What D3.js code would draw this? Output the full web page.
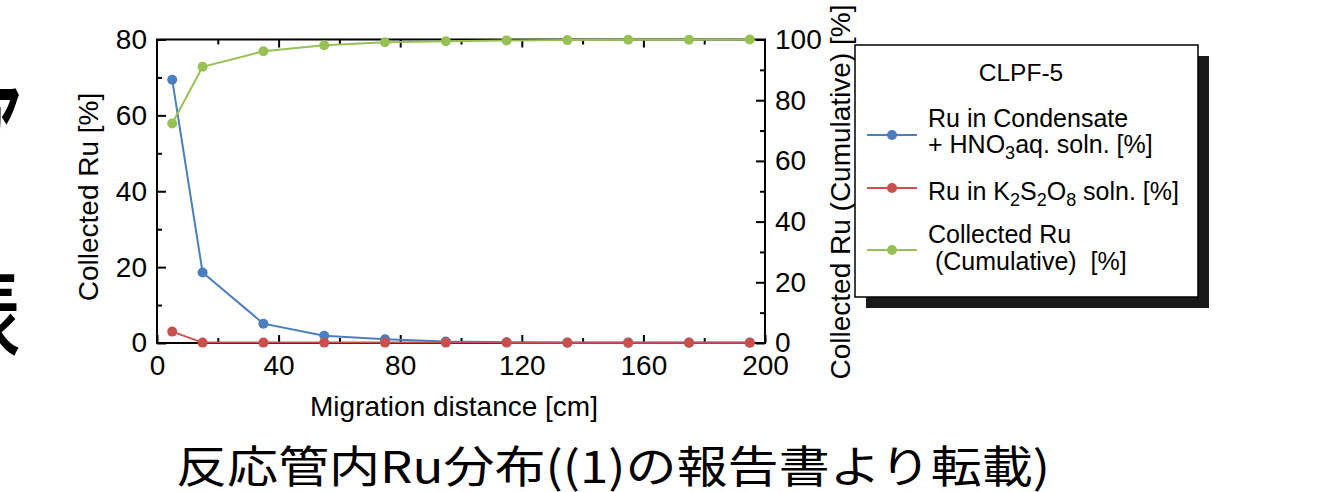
<!DOCTYPE html>
<html>
<head>
<meta charset="utf-8">
<script src="https://cdn.jsdelivr.net/npm/d3@7"></script>
<style>
  html, body { margin: 0; padding: 0; background: #fff; }
  svg { display: block; }
  text { font-family: "Liberation Sans", Arial, sans-serif; fill: #000; }
  .cjk { font-family: "Noto Sans CJK JP", sans-serif; }
</style>
</head>
<body>
<svg id="chart" width="1333" height="492"></svg>
<script>
// Migration distance along the reaction tube [cm]
const distance = [5, 15, 35, 55, 75, 95, 115, 135, 155, 175, 195];
// Ru in condensate + HNO3 aq. solution [%]
const condensate = [69.4, 18.6, 5.1, 1.9, 1.0, 0.4, 0.2, 0.1, 0.1, 0.1, 0.1];
// Ru in K2S2O8 solution [%]
const persulfate = [3.0, 0.1, 0.1, 0.1, 0.1, 0.1, 0.1, 0.05, 0.05, 0.05, 0.05];
// Collected Ru, cumulative [%] (right axis)
const cumulative = [72.3, 91.0, 96.1, 98.1, 99.1, 99.4, 99.7, 99.8, 99.9, 99.9, 100.0];

const xTicks = [0, 40, 80, 120, 160, 200];
const xMinor = [20, 60, 100, 140, 180];
const yLeftTicks = [0, 20, 40, 60, 80];
const yLeftMinor = [10, 30, 50, 70];
const yRightTicks = [0, 20, 40, 60, 80, 100];
const yRightMinor = [10, 30, 50, 70, 90];

const colors = { condensate: "#4a7ebf", persulfate: "#c9504d", cumulative: "#98c154" };

const svg = d3.select("#chart");
const plot = { left: 157, right: 765, top: 39.5, bottom: 343 };

const x = d3.scaleLinear().domain([0, 200]).range([plot.left, plot.right]);
const yL = d3.scaleLinear().domain([0, 80]).range([plot.bottom, plot.top]);
const yR = d3.scaleLinear().domain([0, 100]).range([plot.bottom, plot.top]);

// cropped glyphs at the left edge
svg.append("text").attr("class", "cjk")
  .attr("transform", "translate(-24,156) scale(0.5,1)")
  .style("font-size", "90px").style("font-weight", 700).text("ア");
svg.append("text").attr("class", "cjk")
  .attr("transform", "translate(-46,348) scale(0.7,1)")
  .style("font-size", "95px").style("font-weight", 500).text("表");

const axisFont = 28;

function styleAxis(g) {
  g.select(".domain").remove();
  g.selectAll(".tick line").attr("stroke", "#000").attr("stroke-width", 2);
  g.selectAll(".tick text").style("font-size", axisFont + "px")
    .style("font-family", "'Liberation Sans', Arial, sans-serif").attr("fill", "#000");
}

// bottom axis
svg.append("g").attr("transform", `translate(0,${plot.bottom})`)
  .call(d3.axisBottom(x).tickValues(xTicks).tickSize(-8).tickPadding(12).tickFormat(d3.format("d")))
  .call(styleAxis);
svg.append("g").attr("transform", `translate(0,${plot.bottom})`)
  .call(d3.axisBottom(x).tickValues(xMinor).tickSize(-5).tickFormat(""))
  .call(styleAxis);
// top axis (ticks only)
svg.append("g").attr("transform", `translate(0,${plot.top})`)
  .call(d3.axisTop(x).tickValues(xTicks.slice(1, -1)).tickSize(-8).tickFormat(""))
  .call(styleAxis);
svg.append("g").attr("transform", `translate(0,${plot.top})`)
  .call(d3.axisTop(x).tickValues(xMinor).tickSize(-5).tickFormat(""))
  .call(styleAxis);
// left axis
svg.append("g").attr("transform", `translate(${plot.left},0)`)
  .call(d3.axisLeft(yL).tickValues(yLeftTicks).tickSize(-9).tickPadding(10).tickFormat(d3.format("d")))
  .call(styleAxis);
svg.append("g").attr("transform", `translate(${plot.left},0)`)
  .call(d3.axisLeft(yL).tickValues(yLeftMinor).tickSize(-5).tickFormat(""))
  .call(styleAxis);
// right axis
svg.append("g").attr("transform", `translate(${plot.right},0)`)
  .call(d3.axisRight(yR).tickValues(yRightTicks).tickSize(-9).tickPadding(10).tickFormat(d3.format("d")))
  .call(styleAxis);
svg.append("g").attr("transform", `translate(${plot.right},0)`)
  .call(d3.axisRight(yR).tickValues(yRightMinor).tickSize(-5).tickFormat(""))
  .call(styleAxis);

// plot frame
svg.append("rect")
  .attr("x", plot.left).attr("y", plot.top)
  .attr("width", plot.right - plot.left).attr("height", plot.bottom - plot.top)
  .attr("fill", "none").attr("stroke", "#000").attr("stroke-width", 2);

// series, drawn blue, green, then red on top
const series = {
  condensate: { values: condensate, y: yL },
  cumulative: { values: cumulative, y: yR },
  persulfate: { values: persulfate, y: yL }
};
["condensate", "cumulative", "persulfate"].forEach(k => {
  const s = series[k];
  const pts = distance.map((d, i) => [x(d), s.y(s.values[i])]);
  svg.append("path")
    .attr("d", d3.line()(pts))
    .attr("fill", "none").attr("stroke", colors[k]).attr("stroke-width", 2);
  svg.append("g").selectAll("circle").data(pts).join("circle")
    .attr("cx", d => d[0]).attr("cy", d => d[1]).attr("r", 5)
    .attr("fill", colors[k]);
});

// axis titles
svg.append("text")
  .attr("transform", `translate(98,197) rotate(-90)`)
  .attr("text-anchor", "middle").style("font-size", axisFont + "px")
  .text("Collected Ru [%]");
svg.append("text")
  .attr("transform", `translate(850,192) rotate(-90)`)
  .attr("text-anchor", "middle").style("font-size", axisFont + "px")
  .text("Collected Ru (Cumulative) [%]");
svg.append("text")
  .attr("x", 454).attr("y", 416)
  .attr("text-anchor", "middle").style("font-size", axisFont + "px")
  .text("Migration distance [cm]");

// legend
const lg = svg.append("g");
lg.append("rect").attr("x", 866).attr("y", 56).attr("width", 343).attr("height", 252)
  .attr("fill", "#1a1a1a");
lg.append("rect").attr("x", 855).attr("y", 45).attr("width", 343).attr("height", 252)
  .attr("fill", "#fff").attr("stroke", "#000").attr("stroke-width", 1.5);
lg.append("text").attr("x", 1021).attr("y", 81).attr("text-anchor", "middle")
  .style("font-size", "24.5px").text("CLPF-5");

const legendFont = "25px";
const subFont = "18px";
const legendRows = [
  { key: "condensate", y: 135 },
  { key: "persulfate", y: 188 },
  { key: "cumulative", y: 250 }
];
legendRows.forEach(r => {
  lg.append("line").attr("x1", 867).attr("x2", 917).attr("y1", r.y).attr("y2", r.y)
    .attr("stroke", colors[r.key]).attr("stroke-width", 2);
  lg.append("circle").attr("cx", 892).attr("cy", r.y).attr("r", 5).attr("fill", colors[r.key]);
});

// entry 1
lg.append("text").attr("x", 928).attr("y", 127).style("font-size", legendFont).text("Ru in Condensate");
const t2 = lg.append("text").attr("x", 928).attr("y", 153).style("font-size", legendFont);
t2.append("tspan").text("+ HNO");
t2.append("tspan").attr("dy", 6).style("font-size", subFont).text("3");
t2.append("tspan").attr("dy", -6).text("aq. soln. [%]");
// entry 2
const t3 = lg.append("text").attr("x", 928).attr("y", 200).style("font-size", legendFont);
t3.append("tspan").text("Ru in K");
t3.append("tspan").attr("dy", 6).style("font-size", subFont).text("2");
t3.append("tspan").attr("dy", -6).text("S");
t3.append("tspan").attr("dy", 6).style("font-size", subFont).text("2");
t3.append("tspan").attr("dy", -6).text("O");
t3.append("tspan").attr("dy", 6).style("font-size", subFont).text("8");
t3.append("tspan").attr("dy", -6).text(" soln. [%]");
// entry 3
lg.append("text").attr("x", 928).attr("y", 243).style("font-size", legendFont).text("Collected Ru");
lg.append("text").attr("x", 928).attr("y", 270).style("font-size", legendFont)
  .attr("xml:space", "preserve").text(" (Cumulative)  [%]");

// caption
svg.append("text").attr("class", "cjk")
  .attr("x", 176).attr("y", 483)
  .attr("textLength", 874).attr("lengthAdjust", "spacingAndGlyphs")
  .style("font-size", "44px")
  .text("反応管内Ru分布((1)の報告書より転載)");
</script>
</body>
</html>
